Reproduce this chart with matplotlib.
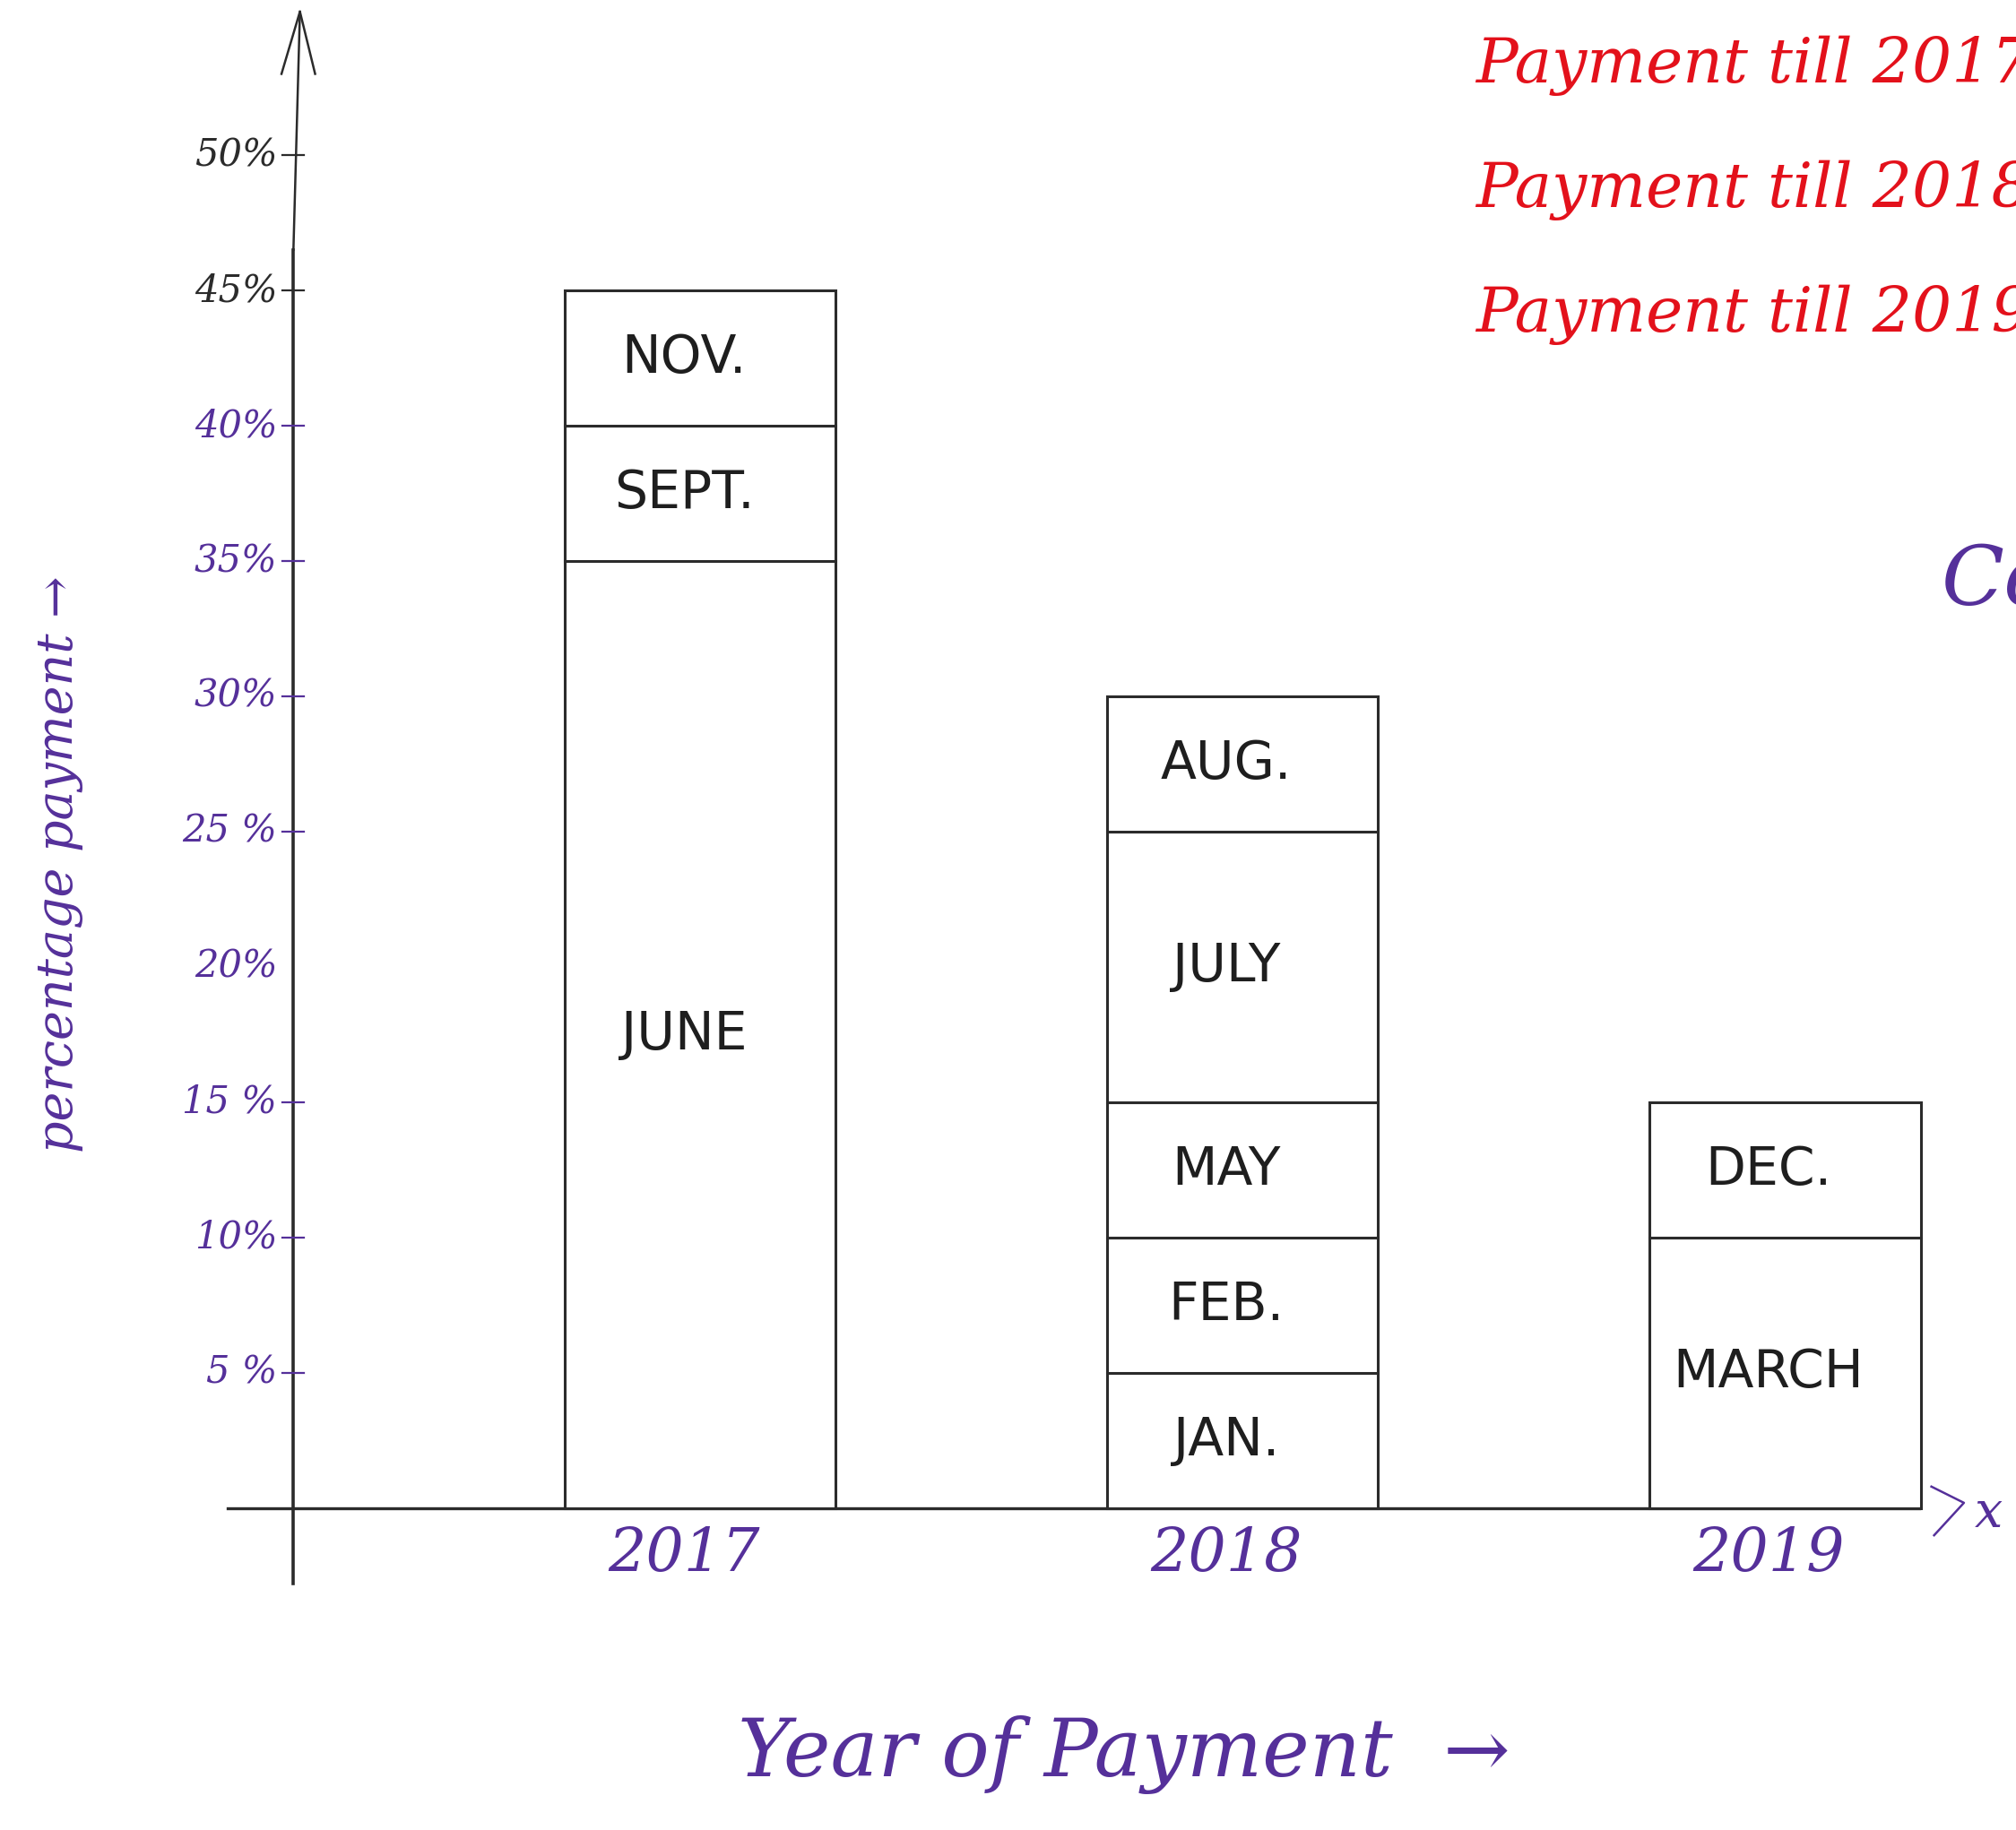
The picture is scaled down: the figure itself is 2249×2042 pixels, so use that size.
import matplotlib
matplotlib.use('Agg')
import matplotlib.pyplot as plt
import numpy as np

# data (percent of payment per month)
years = ['2017', '2018', '2019']
months_2017 = ['JUNE', 'SEPT.', 'NOV.']
share_2017 = [35, 5, 5]
months_2018 = ['JAN.', 'FEB.', 'MAY', 'JULY', 'AUG.']
share_2018 = [5, 5, 5, 10, 5]
months_2019 = ['MARCH', 'DEC.']
share_2019 = [10, 5]
tick_values = [5, 10, 15, 20, 25, 30, 35, 40, 45, 50]
tick_labels = ['5 %', '10%', '15 %', '20%', '25 %', '30%', '35%', '40%', '45%', '50%']
legend_lines = ['Payment till 2017', 'Payment till 2018', 'Payment till 2019']

purple = '#55309a'
ink = '#2b2b2b'
red = '#e3111b'
hand = ['DejaVu Serif']

fig = plt.figure(figsize=(22.49, 20.42), dpi=100)
ax = fig.add_axes([0, 0, 1, 1])
ax.set_xlim(-1.291, 2.426)
ax.set_ylim(-11.89, 55.73)
ax.axis('off')

# stacked bars
stacks = [(months_2017, share_2017), (months_2018, share_2018), (months_2019, share_2019)]
for i, (names, vals) in enumerate(stacks):
    bottom = 0
    for name, v in zip(names, vals):
        ax.bar(i, v, bottom=bottom, width=0.5, color='white',
               edgecolor=ink, linewidth=2.2, zorder=2)
        ax.text(i - 0.03, bottom + v / 2, name, ha='center', va='center',
                fontsize=42, color='#1e1e1e', fontweight='medium', zorder=3)
        bottom += v

# axes lines
yx = -0.75
ax.plot([-0.871, 2.248], [0, 0], color=ink, lw=2.4, zorder=1)
ax.plot([yx, yx], [-2.8, 46.5], color=ink, lw=2.6, zorder=1)
ax.plot([yx, yx + 0.012], [46.5, 55.3], color=ink, lw=1.8, zorder=1)
ax.plot([yx - 0.022, yx + 0.012, yx + 0.04], [53.0, 55.3, 53.0], color=ink, lw=1.8)

# x arrow tip and label
ax.plot([2.27, 2.33, 2.275], [0.8, 0.2, -1.0], color=purple, lw=1.8)
ax.text(2.35, -0.2, 'x', fontsize=40, color=purple, va='center', family=hand, style='italic')

# y ticks (the sketch has no mark at 20%)
for v, lab in zip(tick_values, tick_labels):
    c = ink if v >= 45 else purple
    if v != 20:
        ax.plot([yx - 0.02, yx + 0.02], [v, v], color=c, lw=1.6)
    ax.text(yx - 0.03, v, lab, ha='right', va='center', fontsize=30, color=c,
            family=hand, style='italic')

# year labels
for i, yr in enumerate(years):
    ax.text(i - 0.03, -1.7, yr, ha='center', va='center', fontsize=48,
            color=purple, family=hand, style='italic')

ax.text(0.07, -9.1, 'Year of Payment  \u2192', ha='left', va='center',
        fontsize=64, color=purple, family=hand, style='italic')
ax.text(-1.183, 23.8, 'percentage payment \u2192', ha='center', va='center',
        rotation=90, fontsize=40, color=purple, family=hand, style='italic')

# red notes on the right (cut off by the page edge, as in the sketch)
for k, line in enumerate(legend_lines):
    ax.text(1.43, 53.3 - 4.6 * k, line, ha='left', va='center', fontsize=50,
            color=red, family=hand, style='italic', clip_on=False)

ax.text(2.288, 34.2, 'Conclusion', ha='left', va='center', fontsize=66,
        color=purple, family=hand, style='italic')

fig.savefig('out.png', dpi=100)
